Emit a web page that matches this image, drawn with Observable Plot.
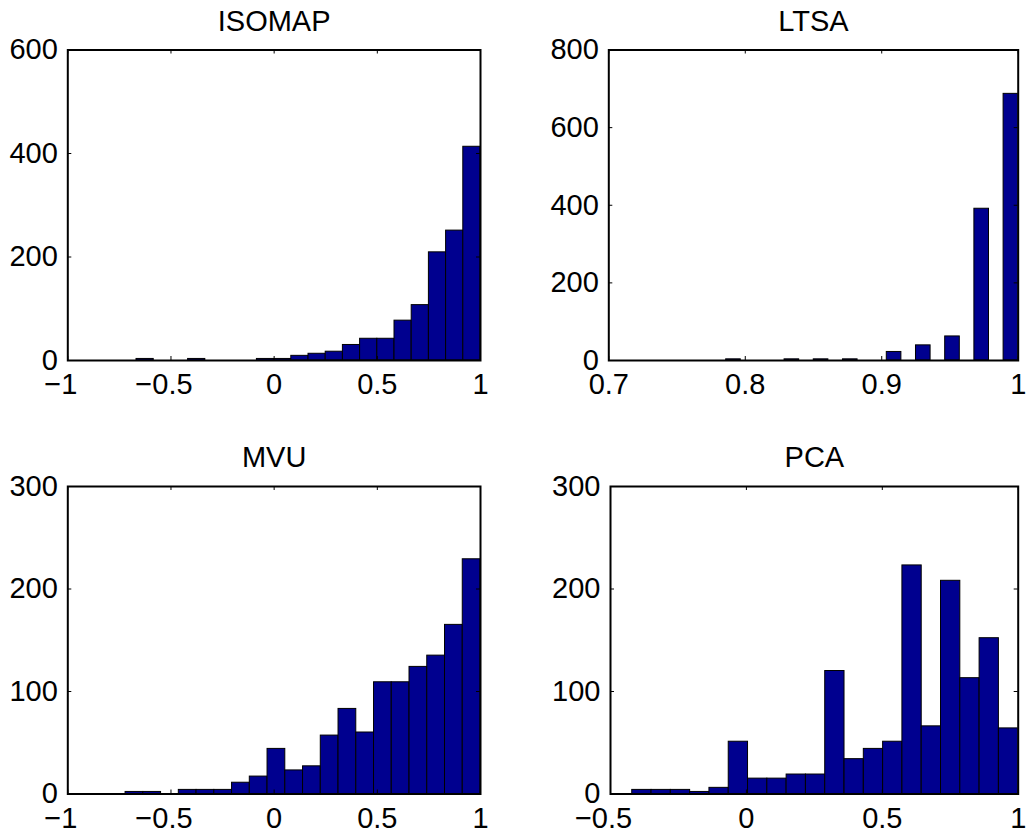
<!DOCTYPE html>
<html>
<head>
<meta charset="utf-8">
<script src="https://cdn.jsdelivr.net/npm/d3@7"></script>
<script src="https://cdn.jsdelivr.net/npm/@observablehq/plot@0.6"></script>
<style>
  html, body { margin: 0; padding: 0; background: #fff; }
  #fig { position: relative; width: 1026px; height: 835px; font-family: "Liberation Sans", Arial, Helvetica, sans-serif; }
  #fig svg { position: absolute; overflow: visible; max-width: none; }
</style>
</head>
<body>
<div id="fig"></div>
<script>
// Histograms of per-point correlation for four embedding methods (20 bins each).

// ISOMAP
const isomapRange = [-0.667, 1];
const isomapCounts = [3, 0, 0, 3, 0, 0, 0, 3, 3, 9, 13, 17, 30, 42, 42, 77, 107, 209, 251, 413];
const isomapXTicks = [-1, -0.5, 0, 0.5, 1];
const isomapXLabels = ["\u22121", "\u22120.5", "0", "0.5", "1"];
const isomapYTicks = [0, 200, 400, 600];

// LTSA
const ltsaRange = [0.786, 1];
const ltsaCounts = [3, 0, 0, 0, 3, 0, 3, 0, 3, 0, 0, 22, 0, 39, 0, 62, 0, 391, 0, 687];
const ltsaXTicks = [0.7, 0.8, 0.9, 1];
const ltsaXLabels = ["0.7", "0.8", "0.9", "1"];
const ltsaYTicks = [0, 200, 400, 600, 800];

// MVU
const mvuRange = [-0.72, 1];
const mvuCounts = [2, 2, 0, 4, 4, 4, 11, 17, 44, 23, 27, 57, 83, 60, 109, 109, 124, 135, 165, 229];
const mvuXTicks = [-1, -0.5, 0, 0.5, 1];
const mvuXLabels = ["\u22121", "\u22120.5", "0", "0.5", "1"];
const mvuYTicks = [0, 100, 200, 300];

// PCA
const pcaRange = [-0.42, 1];
const pcaCounts = [4, 4, 4, 2, 6, 51, 15, 15, 19, 19, 120, 34, 44, 51, 223, 66, 208, 113, 152, 64];
const pcaXTicks = [-0.5, 0, 0.5, 1];
const pcaXLabels = ["\u22120.5", "0", "0.5", "1"];
const pcaYTicks = [0, 100, 200, 300];

const BAR_FILL = "#00008f";
const FONT = "29px";
const TICK_PX = 4;

function panel(cfg) {
  const {title, range, counts, xTicks, xLabels, yTicks, left, top, width, height, m} = cfg;
  const xDomain = [xTicks[0], xTicks[xTicks.length - 1]];
  const yDomain = [yTicks[0], yTicks[yTicks.length - 1]];
  const n = counts.length;
  const w = (range[1] - range[0]) / n;
  const bins = counts.map((c, i) => ({x1: range[0] + i * w, x2: range[0] + (i + 1) * w, count: c}))
    .filter(b => b.count > 0);
  const innerW = width - m.left - m.right;
  const innerH = height - m.top - m.bottom;
  const tx = TICK_PX / innerW * (xDomain[1] - xDomain[0]);
  const ty = TICK_PX / innerH * (yDomain[1] - yDomain[0]);
  const fmt = d => xLabels[xTicks.indexOf(d)];
  const svg = Plot.plot({
    width, height,
    marginLeft: m.left, marginRight: m.right, marginTop: m.top, marginBottom: m.bottom,
    x: {domain: xDomain, label: null},
    y: {domain: yDomain, label: null},
    style: {fontFamily: "'Liberation Sans', Arial, Helvetica, sans-serif", fontSize: FONT, color: "black", background: "transparent", overflow: "visible"},
    marks: [
      Plot.rectY(bins, {x1: "x1", x2: "x2", y1: 0, y2: "count", fill: BAR_FILL, stroke: "black", strokeWidth: 1, clip: true}),
      // inward ticks on all four sides
      Plot.ruleX(xTicks, {y1: yDomain[0], y2: yDomain[0] + ty, stroke: "black", strokeWidth: 1}),
      Plot.ruleX(xTicks, {y1: yDomain[1] - ty, y2: yDomain[1], stroke: "black", strokeWidth: 1}),
      Plot.ruleY(yTicks, {x1: xDomain[0], x2: xDomain[0] + tx, stroke: "black", strokeWidth: 1}),
      Plot.ruleY(yTicks, {x1: xDomain[1] - tx, x2: xDomain[1], stroke: "black", strokeWidth: 1}),
      Plot.frame({stroke: "black", strokeWidth: 2}),
      Plot.axisX(xTicks.filter(d => d < 0), {tickSize: 0, tickPadding: 13, tickFormat: fmt, dx: -7, fontSize: FONT, label: null}),
      Plot.axisX(xTicks.filter(d => d >= 0), {tickSize: 0, tickPadding: 13, tickFormat: fmt, fontSize: FONT, label: null}),
      Plot.axisY(yTicks, {tickSize: 0, tickPadding: 10, tickFormat: d => String(d), fontSize: FONT, label: null}),
      Plot.text([title], {text: d => d, frameAnchor: "top", lineAnchor: "bottom", dy: -19.5, fontSize: FONT})
    ]
  });
  svg.style.left = left + "px";
  svg.style.top = top + "px";
  document.getElementById("fig").appendChild(svg);
}

panel({title: "ISOMAP", range: isomapRange, counts: isomapCounts, xTicks: isomapXTicks, xLabels: isomapXLabels, yTicks: isomapYTicks,
  left: 0, top: 0, width: 513, height: 417, m: {left: 67.3, right: 33, top: 49.5, bottom: 57}});
panel({title: "LTSA", range: ltsaRange, counts: ltsaCounts, xTicks: ltsaXTicks, xLabels: ltsaXLabels, yTicks: ltsaYTicks,
  left: 513, top: 0, width: 513, height: 417, m: {left: 95.3, right: 8.3, top: 49.5, bottom: 57}});
panel({title: "MVU", range: mvuRange, counts: mvuCounts, xTicks: mvuXTicks, xLabels: mvuXLabels, yTicks: mvuYTicks,
  left: 0, top: 417, width: 513, height: 418, m: {left: 67.3, right: 33, top: 69, bottom: 41.5}});
panel({title: "PCA", range: pcaRange, counts: pcaCounts, xTicks: pcaXTicks, xLabels: pcaXLabels, yTicks: pcaYTicks,
  left: 513, top: 417, width: 513, height: 418, m: {left: 97, right: 8.3, top: 69, bottom: 41.5}});
</script>
</body>
</html>
